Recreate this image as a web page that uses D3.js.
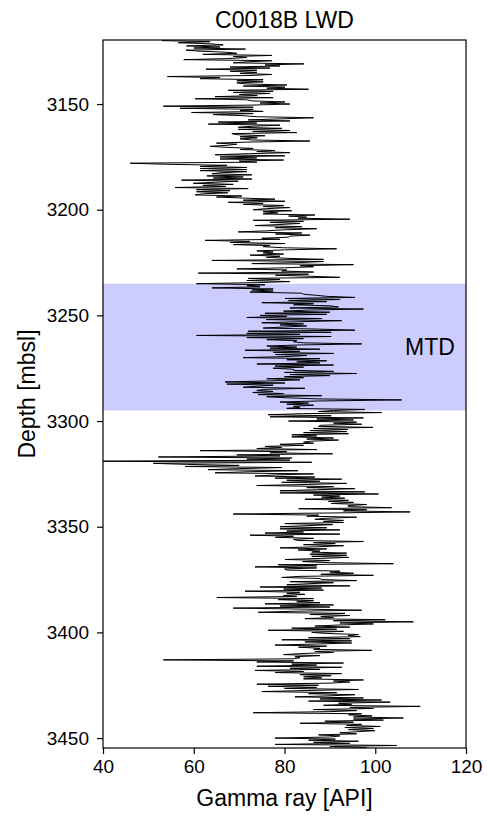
<!DOCTYPE html>
<html>
<head>
<meta charset="utf-8">
<script src="https://d3js.org/d3.v7.min.js"></script>
<style>
  body { margin: 0; background: #fff; }
  svg text { font-family: "Liberation Sans", Arial, Helvetica, sans-serif; fill: #000; }
</style>
</head>
<body>
<div id="chart"></div>
<script>
// log sampled every 0.5 m starting at 3120 mbsl
const depthTop = 3120;
const depthStep = 0.5;

// gamma ray readings [API], one row per 10 m
const gammaRay = [
  53, 63.6, 56.6, 63.6, 66.5, 58.4, 65.8, 60, 71.4, 58.3, 61.4, 67.3, 69.5, 62, 77.2, 68.7, 71.7, 67.3, 57.8, 77.2,
  72, 68.7, 84.3, 75.7, 79, 68, 76.8, 62.7, 73.9, 68, 73.9, 70.2, 77.2, 72.4, 54.2, 65.8, 61.4, 75.3, 69.5, 75.3,
  69.5, 71.7, 80.5, 70.9, 80.1, 76.1, 85.3, 67.6, 77.5, 68.7, 76.8, 70, 74, 64.7, 77.5, 60.3, 71.7, 72.8, 80.1, 74.6,
  81.2, 72.8, 53.3, 73.1, 57, 73.1, 70.2, 75.3, 59.5, 73.1, 64.3, 70.9, 73.9, 86.4, 79.4, 72, 81.2, 65.4, 73.9, 63.2,
  79, 73, 69.8, 79.4, 69.8, 81.2, 73, 82.7, 68.4, 69.5, 75.7, 70.2, 74, 70.2, 72.8, 85.6, 71.7, 65, 69.5, 67.5,
  63.6, 67.3, 73.1, 70.2, 77.9, 73.9, 81.2, 72, 64.7, 80.1, 65.8, 73.9, 65.8, 79.8, 70, 73.9, 46, 54, 67.3, 61.4,
  71.7, 61.4, 71.7, 61.4, 71.7, 66, 64, 72.8, 62.9, 70.9, 64.3, 72.8, 57.3, 69.8, 64.7, 59.9, 68.7, 62, 67, 55.9,
  72, 60.6, 68, 60.6, 67.5, 62, 60.3, 70.6, 65, 70.9, 77.9, 70.9, 80.1, 67.6, 75.3, 70.9, 79.8, 75.3, 81.2, 76,
  73.1, 81.6, 75.3, 78.5, 75.3, 86.7, 80.9, 84.9, 83, 94.4, 73.1, 84.2, 76.8, 83.4, 79, 73.5, 83.8, 77.9, 87.1, 80,
  76, 69.8, 83.8, 78, 85.6, 81.2, 80.9, 75, 79, 62.5, 72.4, 68, 80.1, 68.7, 76.8, 75.3, 79.8, 91.5, 80, 73.9,
  77.5, 75.3, 79.8, 72.4, 79, 76, 80.5, 88.6, 64, 88.6, 83.4, 72.8, 95.2, 83.4, 86.4, 80, 69.5, 80.5, 79.4, 86.4,
  61, 85.3, 78, 86, 92.2, 72, 79, 71.7, 81.2, 74, 60.6, 75.7, 71.7, 74.6, 64, 77.5, 72.8, 77.5, 72.4, 83.8,
  84.2, 87, 89.3, 95.5, 80.1, 92.2, 80.9, 89.3, 75, 86.4, 82, 90, 91.9, 81.2, 97.4, 85, 79.8, 90, 75.7, 89.3,
  74.6, 80.5, 71.7, 88.2, 76, 92.6, 83.4, 75, 84.2, 79, 84.9, 80, 75.3, 87.5, 95.5, 72, 90.3, 71.7, 83.4, 60.6,
  90.3, 71.7, 84.2, 76.1, 82.7, 82, 84.2, 97, 83.4, 76.1, 82.7, 76.8, 87.8, 71.3, 83.4, 77.5, 90.8, 78, 84.9, 80,
  70.9, 87.8, 80.5, 89.3, 82.7, 87.8, 73.9, 90.8, 77.9, 84.2, 77.5, 82, 82, 90.8, 80, 95.9, 81.2, 90, 80, 84.2,
  76.1, 83.4, 77, 66.9, 80.1, 67.3, 77.5, 74, 70.9, 84.5, 76, 73.9, 77.5, 73, 79.8, 74.2, 88.2, 76.1, 80.5, 87.1,
  105.8, 87.5, 79, 85.3, 80.5, 86.4, 82, 83.4, 80.5, 97.7, 90.8, 87.5, 101.4, 84.2, 76.4, 90.3, 76.8, 97.4, 87.1, 95.2,
  80.9, 95.9, 90.8, 97, 88, 87.5, 99.5, 86.4, 94, 85.6, 93.7, 84.2, 94.1, 81.6, 87.1, 81.6, 90.8, 84.9, 91.9, 86,
  84.2, 86.4, 79, 84.2, 75.7, 79.4, 73.9, 87.1, 61.4, 80.5, 76.8, 90.6, 69.5, 79, 52.2, 81.6, 71.7, 81.2, 36, 86,
  51.1, 58.4, 70, 58.1, 79.4, 70, 63.2, 83, 72, 64.7, 86.4, 78, 73.5, 86.7, 77.9, 92.6, 80.5, 87.8, 79.4, 93.7,
  85, 73.9, 90.8, 84.9, 95.5, 87, 79, 97.7, 79, 100.7, 86.4, 92.2, 88.2, 93.3, 84.5, 94.1, 89.7, 95.2, 90.3, 98.1,
  94, 94.1, 103.6, 83.1, 98.1, 93, 107.7, 90, 68.7, 87.5, 84.9, 95.9, 89, 86.7, 93, 88.6, 93, 80.1, 90.6, 85,
  79, 89.3, 79, 92.2, 80.5, 84.2, 75.7, 92.2, 72.4, 82, 78, 86.4, 82, 83, 97.4, 86.4, 91.2, 84.2, 93, 87,
  79, 89.3, 83, 87.8, 86, 93.7, 85.6, 93.7, 86, 94.1, 88, 80.1, 90, 84, 90, 104, 78.6, 87.1, 73.5, 87.1,
  80, 80.5, 92.2, 90, 95.2, 88, 99.6, 83.4, 79.4, 87.8, 88.2, 95.9, 81.2, 90.8, 85, 80.5, 94.4, 74.6, 88.2, 79.8,
  88.6, 71.3, 83.4, 80.5, 84.5, 79.8, 82.7, 65.1, 86.4, 78.6, 86.4, 82.7, 87.8, 75.7, 90.8, 79, 90, 68.7, 84.9, 97,
  82, 74.2, 93.3, 85.6, 94.4, 88, 90.8, 84.5, 102.2, 90.8, 108.4, 92.2, 99.6, 92, 86.7, 94.4, 81.6, 91.5, 76.4, 93,
  86, 89.3, 96.3, 94, 96.7, 85.3, 94.4, 79.4, 94.8, 84.5, 94.8, 87, 77.9, 89.3, 83.1, 87.8, 86.4, 99.2, 86.7, 90.8,
  84, 79.8, 87.8, 82.3, 83.4, 82, 53.3, 82, 73.9, 93, 81.6, 87.1, 73.9, 92.6, 81.2, 87.8, 73.5, 84.2, 77.9, 92.6,
  83.4, 90.3, 84.2, 88.2, 84.2, 97.4, 90.8, 94.4, 90, 73.9, 87.5, 76.4, 87.1, 80, 96.3, 85, 75, 91.5, 85.3, 95.5,
  90, 82.3, 97.4, 87.8, 101.4, 85.3, 103.3, 91.9, 94.8, 88.6, 109.9, 94.4, 99.6, 86.4, 95.9, 90, 73.1, 97, 94.1, 99.3,
  95.2, 106.2, 95.2, 101.8, 88.9, 95.2, 83.4, 97, 93.7, 101.1, 93.3, 99.6, 94.1, 99.9, 96, 92.2, 95.9, 87.5, 92.2, 90,
  77.9, 91.2, 85.3, 96.3, 86.4, 94.4, 77.9, 104.7, 90, 98.1
];

// MTD interval [mbsl]
const mtdTop = 3235;
const mtdBase = 3295;
const mtdLabel = "MTD";

const xTicks = [40, 60, 80, 100, 120];
const yTicks = [3150, 3200, 3250, 3300, 3350, 3400, 3450];
const xDomain = [40, 120];
const yDomain = [3119.7, 3454.7];

const title = "C0018B LWD";
const xTitle = "Gamma ray [API]";
const yTitle = "Depth [mbsl]";

class LogChart {
  constructor(opts) {
    this.container = opts.container;
    this.width = 487;
    this.height = 819;
    this.margin = { top: 40, right: 21, bottom: 71, left: 103 };
    this.draw();
  }

  draw() {
    const m = this.margin;
    const x = d3.scaleLinear().domain(xDomain).range([m.left, this.width - m.right]);
    const y = d3.scaleLinear().domain(yDomain).range([m.top, this.height - m.bottom]);

    const points = gammaRay.map((g, i) => ({ depth: depthTop + i * depthStep, gr: g }));

    const svg = this.container.append('svg')
      .attr('width', this.width)
      .attr('height', this.height);

    svg.append('clipPath').attr('id', 'plot-clip')
      .append('rect')
      .attr('x', m.left).attr('y', m.top)
      .attr('width', x.range()[1] - m.left)
      .attr('height', y.range()[1] - m.top);

    // MTD band
    svg.append('rect')
      .attr('x', m.left)
      .attr('y', y(mtdTop))
      .attr('width', x.range()[1] - m.left)
      .attr('height', y(mtdBase) - y(mtdTop))
      .attr('fill', '#ccccff');

    const line = d3.line()
      .x(d => x(d.gr))
      .y(d => y(d.depth));

    svg.append('path')
      .datum(points)
      .attr('clip-path', 'url(#plot-clip)')
      .attr('d', line)
      .attr('fill', 'none')
      .attr('stroke', '#000')
      .attr('stroke-width', 1)
      .attr('stroke-linejoin', 'miter');

    svg.append('text')
      .attr('x', 405)
      .attr('y', y(3265) + 8)
      .style('font-size', '23px')
      .text(mtdLabel);

    // axes
    const xAxis = svg.append('g')
      .attr('transform', `translate(0,${y.range()[1]})`)
      .call(d3.axisBottom(x).tickValues(xTicks).tickSize(6).tickPadding(6));
    const yAxis = svg.append('g')
      .attr('transform', `translate(${m.left},0)`)
      .call(d3.axisLeft(y).tickValues(yTicks).tickFormat(d3.format('d')).tickSize(6).tickPadding(8));

    [xAxis, yAxis].forEach(a => {
      a.select('.domain').remove();
      a.selectAll('line').attr('stroke', '#000').attr('stroke-width', 1.2);
      a.selectAll('text').attr('font-family', null).style('font-size', '19px').attr('fill', '#000');
    });

    svg.append('rect')
      .attr('x', m.left).attr('y', m.top)
      .attr('width', x.range()[1] - m.left)
      .attr('height', y.range()[1] - m.top)
      .attr('fill', 'none')
      .attr('stroke', '#000')
      .attr('stroke-width', 1.2);

    svg.append('text')
      .attr('x', (m.left + x.range()[1]) / 2)
      .attr('y', 28)
      .attr('text-anchor', 'middle')
      .style('font-size', '23px')
      .text(title);

    svg.append('text')
      .attr('x', (m.left + x.range()[1]) / 2)
      .attr('y', 806)
      .attr('text-anchor', 'middle')
      .style('font-size', '23px')
      .text(xTitle);

    svg.append('text')
      .attr('transform', `translate(35,${(m.top + y.range()[1]) / 2}) rotate(-90)`)
      .attr('text-anchor', 'middle')
      .style('font-size', '23px')
      .text(yTitle);
  }
}

new LogChart({ container: d3.select('#chart') });
</script>
</body>
</html>
